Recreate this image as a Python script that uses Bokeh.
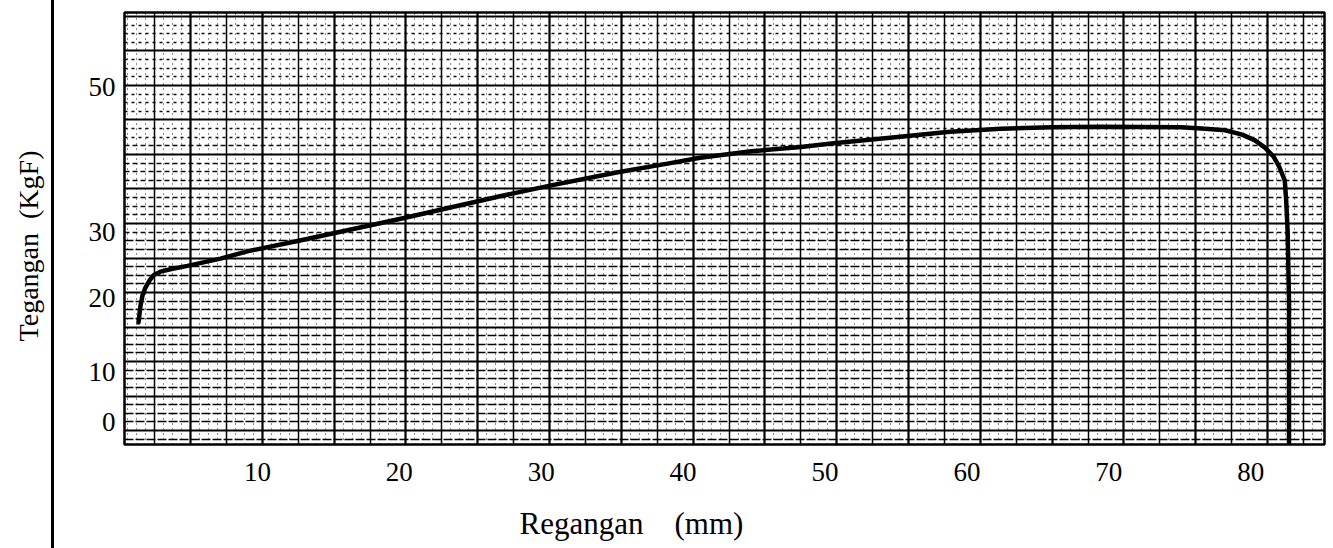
from bokeh.plotting import figure
from bokeh.models import FixedTicker, Grid, InlineStyleSheet
from bokeh.embed import file_html
from bokeh.resources import INLINE

# ---- data ----
strain = [1.62, 1.76, 1.90, 2.11, 2.40, 2.68, 3.17, 4.02, 5.07, 7.40, 9.30, 13.0,
          20.1, 27.1, 30.7, 35.4, 38.9, 41.2, 44.8, 48.3, 50.6, 55.3, 58.8, 62.4,
          65.9, 69.4, 75.1, 76.8, 78.2, 79.4, 80.3, 81.0, 81.6, 82.0, 82.4, 82.5,
          82.6, 82.7, 82.7, 82.7]
stress = [17.6, 19.9, 21.3, 22.4, 23.4, 24.1, 24.6, 25.0, 25.4, 26.4, 27.4, 28.9,
          31.9, 35.0, 36.5, 38.3, 39.5, 40.3, 41.2, 41.8, 42.3, 43.2, 43.9, 44.3,
          44.5, 44.6, 44.5, 44.3, 44.1, 43.5, 42.7, 41.7, 40.5, 39.1, 37.2, 34.4,
          30.3, 20.6, 6.8, 0.8]

x_ticks = [10, 20, 30, 40, 50, 60, 70, 80]
y_tick_pos = [3.8, 10.7, 20.9, 30, 50]
y_tick_labels = ["0", "10", "20", "30", "50"]

NB = "\u00a0"
# trailing no-break spaces shift the visible title off-centre, as in the reference
x_label = "Regangan" + NB * 4 + "(mm)" + NB * 24
y_label = "Tegangan" + NB * 2 + "(KgF)" + NB * 5

FONT = "Liberation Serif"

X0, X1 = 0.634, 85.2
Y0, Y1 = 0.76, 60.34
W, H = 1326, 548

p = figure(width=W, height=H, x_range=(X0, X1), y_range=(Y0, Y1),
           output_backend="svg", toolbar_location=None,
           min_border_left=124, min_border_top=12, min_border_bottom=104,
           min_border_right=2)

p.background_fill_color = "white"
p.border_fill_color = "white"
p.outline_line_color = "black"
p.outline_line_width = 2.5
p.xgrid.visible = False
p.ygrid.visible = False

# vertical page rule at the far left (a CSS decoration of the figure box)
p.stylesheets = [InlineStyleSheet(css=(
    ":host::after { content: ''; position: absolute; left: 51px; top: 0px; "
    "width: 2.5px; height: 548px; background: black; pointer-events: none; }"
))]


def rng(start, step, lo, hi):
    vals = []
    v = start
    while v > lo:
        v -= step
    while v < hi:
        if lo < v < hi:
            vals.append(round(v, 4))
        v += step
    return vals


# graph-paper vertical lines
vstep = 2.53
v_heavy = rng(5.29, 2 * vstep, X0, X1)
v_med = rng(5.29 + vstep, 2 * vstep, X0, X1)
v_minor = [v for v in rng(5.29, vstep / 4, X0, X1)
           if min(abs(v - m) for m in v_heavy + v_med) > 0.1]

# graph-paper horizontal lines
hstep = 4.76
h_major = rng(50.28, hstep, Y0, Y1)
h_minor = [v for v in rng(50.28, hstep / 4, Y0, Y1)
           if min(abs(v - m) for m in h_major) > 0.1]
h_minor_top = [v for v in h_minor if v > 42]
h_minor_mid = [v for v in h_minor if 30 < v <= 42]
h_minor_low = [v for v in h_minor if v <= 30]


def add_grid(dim, ticks, width, dash="solid", alpha=1.0):
    g = Grid(dimension=dim, ticker=FixedTicker(ticks=ticks),
             grid_line_color="black", grid_line_width=width,
             grid_line_dash=dash, grid_line_alpha=alpha)
    p.add_layout(g)


add_grid(0, v_minor, 1.0, "1 4", 0.9)
add_grid(1, h_minor_top, 1.3, "3 4", 0.95)
add_grid(1, h_minor_mid, 1.3, "5 3", 0.95)
add_grid(1, h_minor_low, 1.5, "9 2", 1.0)
add_grid(0, v_med, 1.5)
add_grid(0, v_heavy, 2.2)
add_grid(1, h_major, 2.0)

# curve
p.line(strain, stress, line_width=4.5, line_color="black", line_join="round",
       line_cap="round")

# axes
for ax in (p.xaxis, p.yaxis):
    ax.axis_line_color = None
    ax.major_tick_line_color = None
    ax.minor_tick_line_color = None
    ax.major_label_text_font = FONT
    ax.major_label_text_font_size = "27px"
    ax.major_label_text_color = "black"
    ax.axis_label_text_font = FONT
    ax.axis_label_text_font_style = "normal"
    ax.axis_label_text_color = "black"

p.xaxis.ticker = FixedTicker(ticks=x_ticks)
p.xaxis.major_label_standoff = 12
p.xaxis.axis_label = x_label
p.xaxis.axis_label_text_font_size = "31px"
p.xaxis.axis_label_standoff = 22

p.yaxis.ticker = FixedTicker(ticks=y_tick_pos)
p.yaxis.major_label_overrides = {v: t for v, t in zip(y_tick_pos, y_tick_labels)}
p.yaxis.major_label_standoff = 3
p.yaxis.axis_label = y_label
p.yaxis.axis_label_text_font_size = "28px"
p.yaxis.axis_label_standoff = 42

open("out.html", "w").write(file_html(p, INLINE))
